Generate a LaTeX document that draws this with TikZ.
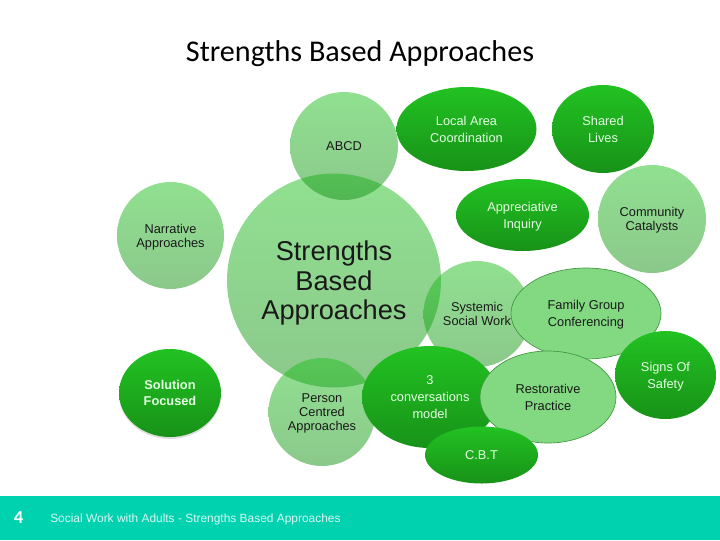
\documentclass[tikz,border=0pt]{standalone}
\usepackage{fontspec}
\setmainfont{Liberation Sans}
\newfontfamily\titlefont{Carlito}
\usetikzlibrary{shapes.geometric, shadows}
\definecolor{footergreen}{HTML}{00D2B0}
\definecolor{bubbletop}{HTML}{22C222}
\definecolor{bubblebottom}{HTML}{189218}
\definecolor{flatgreen}{HTML}{82D982}
\definecolor{flatline}{HTML}{3F993F}
\tikzset{
  bubble/.style 2 args={ellipse, inner sep=0pt, align=center, text depth=0pt, minimum width=#1*0.75pt, minimum height=#2*0.75pt,
    top color=bubbletop, bottom color=bubblebottom, text=white!90!green, font=\fontsize{9.6}{12.7}\selectfont},
  softbubble/.style 2 args={bubble={#1}{#2}, fill opacity=0.5, text opacity=1, text=black!90},
  flatbubble/.style 2 args={ellipse, inner sep=0pt, align=center, text depth=0pt, minimum width=#1*0.75pt, minimum height=#2*0.75pt,
    fill=flatgreen, draw=flatline, line width=0.5pt, text=black!90, font=\fontsize{9.6}{12.7}\selectfont},
}
\begin{document}
\begin{tikzpicture}[x=0.75pt,y=0.75pt,yscale=-1,xscale=1]
    \useasboundingbox (0,0) rectangle (720,540);
    
    % Footer
    \fill[footergreen] (0,496) rectangle (720,540);
    \node (pagenum) at (18.5,517) [text=white!95!footergreen, font=\titlefont\fontsize{14}{16}\bfseries\selectfont] {4};
    \node (footertext) at (50,519) [anchor=west, inner sep=0pt, text=white!85!footergreen, font=\fontsize{8.95}{11}\selectfont] {Social Work with Adults - Strengths Based Approaches};
    
    % Title
    \node (title) at (360,54) [font=\titlefont\fontsize{22.6}{26}\selectfont] {Strengths Based Approaches};
    
    % Soft circles
    \node (main) at (334,280.5) [softbubble={214}{214}, font=\fontsize{20.4}{22.2}\selectfont] {Strengths\\Based\\Approaches};
    \node (abcd) at (344,146) [softbubble={108}{108}] {ABCD};
    \node (narrative) at (170.5,235.5) [softbubble={107}{107}, font=\fontsize{9.6}{10.4}\selectfont] {Narrative\\Approaches};
    \node (person) at (322,412) [softbubble={107}{108}, font=\fontsize{9.6}{10.5}\selectfont] {Person\\Centred\\Approaches};
    \node (systemic) at (477,314) [softbubble={107}{106}, font=\fontsize{9.6}{10.8}\selectfont] {Systemic\\Social Work};
    \node (community) at (652,219) [softbubble={108}{108}, font=\fontsize{9.6}{10.4}\selectfont] {Community\\Catalysts};
    
    % Solid ellipses
    \node (solution) at (170,393) [bubble={102}{88}, drop shadow={opacity=0.25, shadow xshift=0pt, shadow yshift=-1.5pt}, font=\bfseries\fontsize{9.6}{12.4}\selectfont] {Solution\\Focused};
    \node (local) at (466.5,129) [bubble={140}{84}] {Local Area\\Coordination};
    \node (shared) at (603,129) [bubble={102}{88}] {Shared\\Lives};
    \node (appreciative) at (522.5,215) [bubble={133}{72}] {Appreciative\\Inquiry};
    \node (conversations) at (430,397) [bubble={136}{102}] {3\\conversations\\model};
    
    % Flat ellipses
    \node (family) at (586,313.5) [flatbubble={150}{91}] {Family Group\\Conferencing};
    \node (restorative) at (548,397) [flatbubble={136}{92}] {Restorative\\Practice};
    \node (signs) at (665.5,375) [bubble={101}{88}] {Signs Of\\Safety};
    \node (cbt) at (481.5,455) [bubble={113}{57}] {C.B.T};
    
\end{tikzpicture}
\end{document}
